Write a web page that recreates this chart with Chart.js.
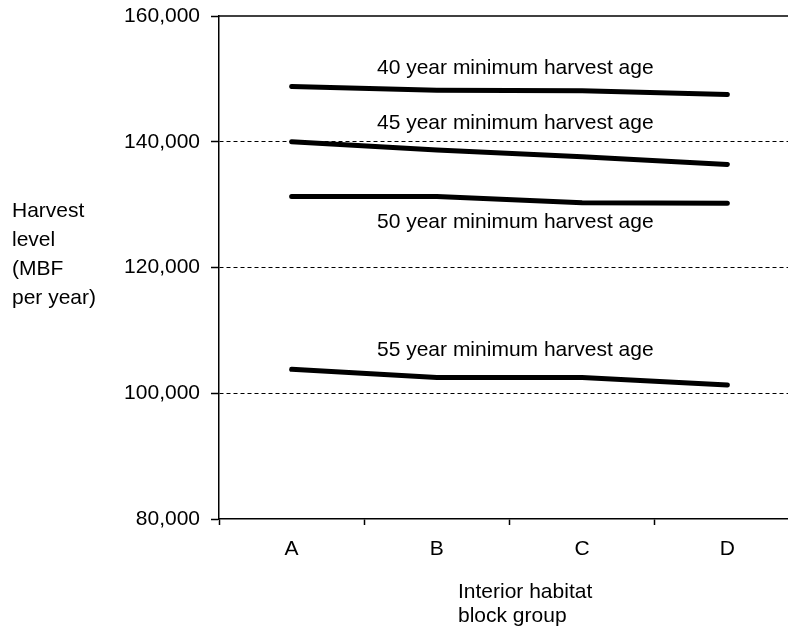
<!DOCTYPE html>
<html>
<head>
<meta charset="utf-8">
<script src="https://cdn.jsdelivr.net/npm/chart.js@4/dist/chart.umd.min.js"></script>
<style>
  html, body { margin: 0; padding: 0; background: #fff; overflow: hidden; }
  #wrap { width: 800px; height: 629px; position: relative; }
</style>
</head>
<body>
<div id="wrap"><canvas id="harvestChart"></canvas></div>
<script>
const blockGroups = ["A", "B", "C", "D"];
const age40 = [148800, 148200, 148100, 147500];
const age45 = [140000, 138700, 137600, 136400];
const age50 = [131300, 131300, 130300, 130200];
const age55 = [103800, 102500, 102500, 101300];
const seriesNames = [
    "40 year minimum harvest age",
    "45 year minimum harvest age",
    "50 year minimum harvest age",
    "55 year minimum harvest age",
];
const yTicks = [80000, 100000, 120000, 140000, 160000];

const FONT = "'Liberation Sans', Arial, Helvetica, sans-serif";

function lineSet(name, values) {
    return {
        label: name,
        data: values,
        borderColor: "#000",
        borderWidth: 5,
        borderCapStyle: "round",
        borderJoinStyle: "round",
        pointRadius: 0,
        tension: 0,
        fill: false,
    };
}

// text that sits on the plot: series names and the two axis titles
const annotate = {
    id: "annotate",
    afterDraw(chart) {
        const ctx = chart.ctx;
        const x = chart.scales.x;
        const y = chart.scales.y;
        const area = chart.chartArea;
        ctx.save();

        // solid top frame line
        ctx.strokeStyle = "#000";
        ctx.lineWidth = 1.5;
        ctx.beginPath();
        ctx.moveTo(area.left, area.top);
        ctx.lineTo(area.right, area.top);
        ctx.stroke();

        ctx.fillStyle = "#000";
        ctx.font = "21px " + FONT;
        ctx.textAlign = "center";
        ctx.textBaseline = "middle";
        const labelValues = [151730, 142980, 127240, 106880];
        seriesNames.forEach((name, i) => {
            ctx.fillText(name, x.getPixelForValue(1.54), y.getPixelForValue(labelValues[i]));
        });

        ctx.textAlign = "left";
        ["Harvest", "level", "(MBF", "per year)"].forEach((t, i) => {
            ctx.fillText(t, 12, 211 + i * 29);
        });
        ["Interior habitat", "block group"].forEach((t, i) => {
            ctx.fillText(t, 458, 592 + i * 24);
        });
        ctx.restore();
    },
};

const ctx = document.getElementById("harvestChart").getContext("2d");
const harvestChart = new Chart(ctx, {
    type: "line",
    data: {
        labels: blockGroups,
        datasets: [
            lineSet(seriesNames[0], age40),
            lineSet(seriesNames[1], age45),
            lineSet(seriesNames[2], age50),
            lineSet(seriesNames[3], age55),
        ],
    },
    options: {
        responsive: true,
        maintainAspectRatio: false,
        animation: false,
        layout: { padding: { top: 16, right: 0, left: 0, bottom: 0 } },
        plugins: {
            legend: { display: false },
            tooltip: { enabled: false },
        },
        scales: {
            x: {
                offset: true,
                grid: {
                    offset: true,
                    drawOnChartArea: false,
                    drawTicks: true,
                    tickLength: 6,
                    tickColor: "#000",
                    tickWidth: 1.5,
                },
                border: { display: true, color: "#000", width: 1.5 },
                ticks: {
                    color: "#000",
                    font: { family: FONT, size: 21 },
                    padding: 12,
                    maxRotation: 0,
                },
                afterFit(scale) {
                    scale.height = 110;
                },
            },
            y: {
                min: 80000,
                max: 160000,
                afterBuildTicks(scale) {
                    scale.ticks = yTicks.map((v) => ({ value: v }));
                },
                grid: {
                    color(c) {
                        const v = c.tick && c.tick.value;
                        return v === 80000 || v === 160000 ? "rgba(0,0,0,0)" : "#000";
                    },
                    lineWidth: 1,
                    tickLength: 8,
                    tickColor: "#000",
                    tickWidth: 1.5,
                },
                border: { display: true, color: "#000", width: 1.5, dash: [4, 3] },
                ticks: {
                    color: "#000",
                    font: { family: FONT, size: 21 },
                    padding: 11,
                    callback: (v) => v.toLocaleString("en-US"),
                },
                afterFit(scale) {
                    scale.width = 219;
                    scale.paddingTop = 0;
                    scale.paddingBottom = 0;
                },
            },
        },
    },
    plugins: [annotate],
});
</script>
</body>
</html>
